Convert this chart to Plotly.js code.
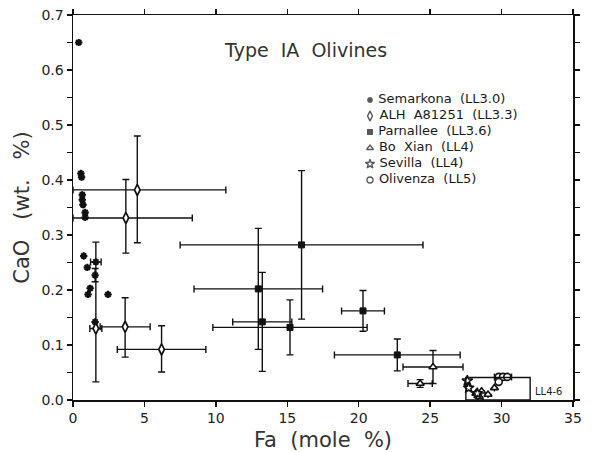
<!DOCTYPE html>
<html>
<head>
<meta charset="utf-8">
<script src="https://cdn.plot.ly/plotly-3.0.1.min.js"></script>
<style>html,body{margin:0;padding:0;background:#fff;}#chart{width:592px;height:452px;}</style>
</head>
<body>
<div id="chart"></div>
<script>
// ---- data ----
const semFa   = [0.4, 0.55, 0.6, 0.65, 0.65, 0.7, 0.85, 0.85, 0.75, 1.0, 1.2, 1.05, 2.45, 1.6, 1.55, 1.55, 27.65];
const semCaO  = [0.65, 0.412, 0.405, 0.373, 0.364, 0.355, 0.341, 0.332, 0.262, 0.241, 0.203, 0.192, 0.192, 0.251, 0.227, 0.142, 0.026];
const semFaErr  = [null,null,null,null,null,null,null,null,null,null,null,null,null,0.37,null,null,null];
const semCaOErr = [null,null,null,null,null,null,null,null,null,null,null,null,null,null,0.012,null,null];

const alhFa   = [4.5, 3.7, 1.6, 3.65, 6.2];
const alhCaO  = [0.382, 0.331, 0.13, 0.133, 0.092];
const alhFaPlus   = [6.2, 4.65, 0.42, 1.75, 3.1];
const alhFaMinus  = [4.5, 3.7, 0.42, 1.75, 3.1];
const alhCaOPlus  = [0.098, 0.07, 0.157, 0.053, 0.043];
const alhCaOMinus = [0.096, 0.064, 0.097, 0.055, 0.041];

const parFa   = [16.0, 12.97, 13.25, 15.19, 20.3, 22.7];
const parCaO  = [0.282, 0.202, 0.142, 0.132, 0.162, 0.082];
const parFaErr  = [8.5, 4.5, 2.07, 5.4, 1.5, 4.4];
const parCaOErr = [0.135, 0.11, 0.09, 0.05, 0.037, 0.029];

const boxFa   = [25.2, 24.3, 28.2, 28.5, 28.6, 29.05, 29.5, 28.45];
const boxCaO  = [0.06, 0.03, 0.012, 0.0, 0.016, 0.01, 0.022, 0.006];
const boxFaErr  = [2.1, 0.85, null, null, null, null, null, null];
const boxCaOErr = [0.03, 0.007, null, null, null, null, null, null];

const sevFa  = [27.6, 27.7, 28.3];
const sevCaO = [0.035, 0.022, 0.012];

const oliFa   = [29.8, 30.1, 30.4, 29.8];
const oliCaO  = [0.042, 0.042, 0.042, 0.033];
const oliFaErr = [0.3, 0.3, 0.3, null];

const ll46Fa  = [27.5, 32.0];
const ll46CaO = [0.0, 0.041];

const xTicks = [0, 5, 10, 15, 20, 25, 30, 35];
const yTicks = [0.0, 0.1, 0.2, 0.3, 0.4, 0.5, 0.6, 0.7];

const legendLabels = ['Semarkona  (LL3.0)', 'ALH  A81251  (LL3.3)', 'Parnallee  (LL3.6)',
                      'Bo  Xian  (LL4)', 'Sevilla  (LL4)', 'Olivenza  (LL5)'];
const legendRows = [0, 1, 2, 3, 4, 5];

// ---- styling ----
const ink = '#111';
const errStyle = {color: ink, thickness: 1.4, width: 3.5};
function ex(arr, minus) {
  const o = Object.assign({type: 'data', array: arr, visible: true}, errStyle);
  if (minus) { o.symmetric = false; o.arrayminus = minus; }
  return o;
}
const sym = {
  sem: {symbol: 'asterisk-open', size: 6, color: ink, line: {color: ink, width: 2}},
  alh: {symbol: 'diamond-tall', size: 8, color: '#fff', line: {color: ink, width: 1.7}},
  par: {symbol: 'square', size: 6, color: ink, line: {color: ink, width: 1}},
  box: {symbol: 'triangle-up', size: 7, color: '#fff', line: {color: ink, width: 1.6}},
  sev: {symbol: 'star', size: 8, color: '#fff', line: {color: ink, width: 1.5}},
  oli: {symbol: 'circle', size: 7, color: '#fff', line: {color: ink, width: 1.6}}
};
const order = ['sem', 'alh', 'par', 'box', 'sev', 'oli'];

const traces = [
  {name: legendLabels[0], x: semFa, y: semCaO, mode: 'markers', type: 'scatter', marker: sym.sem,
   error_x: ex(semFaErr), error_y: ex(semCaOErr)},
  {name: legendLabels[1], x: alhFa, y: alhCaO, mode: 'markers', type: 'scatter', marker: sym.alh,
   error_x: ex(alhFaPlus, alhFaMinus), error_y: ex(alhCaOPlus, alhCaOMinus)},
  {name: legendLabels[2], x: parFa, y: parCaO, mode: 'markers', type: 'scatter', marker: sym.par,
   error_x: ex(parFaErr), error_y: ex(parCaOErr)},
  {name: legendLabels[3], x: boxFa, y: boxCaO, mode: 'markers', type: 'scatter', marker: sym.box,
   error_x: ex(boxFaErr), error_y: ex(boxCaOErr)},
  {name: legendLabels[4], x: sevFa, y: sevCaO, mode: 'markers', type: 'scatter', marker: sym.sev},
  {name: legendLabels[5], x: oliFa, y: oliCaO, mode: 'markers', type: 'scatter', marker: sym.oli,
   error_x: ex(oliFaErr)},
  // legend key drawn on its own small overlay axes
  {x: legendRows.map(() => 0), y: legendRows, xaxis: 'x2', yaxis: 'y2', type: 'scatter',
   mode: 'markers+text', text: legendLabels.map(s => ' ' + s), textposition: 'middle right',
   cliponaxis: false,
   textfont: {family: 'DejaVu Sans, Arial, sans-serif', size: 13, color: '#1a1a1a'},
   marker: {symbol: order.map(k => sym[k].symbol),
            size: [5, 7, 5, 6, 7, 6],
            color: order.map(k => sym[k].color),
            line: {color: ink, width: [1.6, 1.4, 1, 1.3, 1.3, 1.3]}},
   hoverinfo: 'skip'}
];

const font = 'DejaVu Sans, Arial, sans-serif';
const layout = {
  width: 592, height: 452,
  margin: {l: 73, r: 19, t: 15, b: 52},
  paper_bgcolor: '#fff', plot_bgcolor: '#fff',
  font: {family: font, color: '#222', size: 14},
  showlegend: false,
  xaxis: {range: [0, 35], tickvals: xTicks, ticktext: xTicks.map(String),
          ticks: 'outside', ticklen: 5, tickwidth: 1.4, tickcolor: ink,
          showline: true, linewidth: 1.5, linecolor: ink, mirror: 'ticks',
          showgrid: false, zeroline: false,
          tickfont: {size: 14, color: '#222'},
          title: {text: 'Fa  (mole  %)', font: {size: 21, color: '#333'}, standoff: 8}},
  yaxis: {range: [0, 0.7], tickvals: yTicks, ticktext: yTicks.map(v => v.toFixed(1)),
          ticks: 'outside', ticklen: 5, tickwidth: 1.4, tickcolor: ink,
          minor: {dtick: 0.05, ticks: 'outside', ticklen: 5, tickwidth: 1.2, tickcolor: ink},
          showline: true, linewidth: 1.5, linecolor: ink, mirror: 'ticks',
          showgrid: false, zeroline: false,
          tickfont: {size: 14, color: '#222'},
          title: {text: 'CaO   (wt.   %)', font: {size: 21, color: '#333'}, standoff: 6}},
  xaxis2: {domain: [0.574, 1], range: [-10, 203], anchor: 'y2', visible: false, fixedrange: true},
  yaxis2: {domain: [0.5507, 0.8], range: [5.5, -0.5], anchor: 'x2', visible: false, fixedrange: true},
  shapes: [{type: 'rect', xref: 'x', yref: 'y', x0: ll46Fa[0], x1: ll46Fa[1], y0: ll46CaO[0], y1: ll46CaO[1],
            line: {color: ink, width: 1.4}, fillcolor: 'rgba(0,0,0,0)'}],
  annotations: [
    {text: 'Type  IA  Olivines', xref: 'paper', yref: 'paper', x: 0.464, y: 0.909, yanchor: 'middle',
     showarrow: false, font: {family: font, size: 19, color: '#333'}},
    {text: 'LL4-6', xref: 'x', yref: 'y', x: ll46Fa[1] + 0.2, y: 0.016, xanchor: 'left',
     showarrow: false, font: {family: font, size: 10, color: '#222'}}
  ]
};

Plotly.newPlot('chart', traces, layout, {displayModeBar: false, staticPlot: true});
</script>
</body>
</html>
